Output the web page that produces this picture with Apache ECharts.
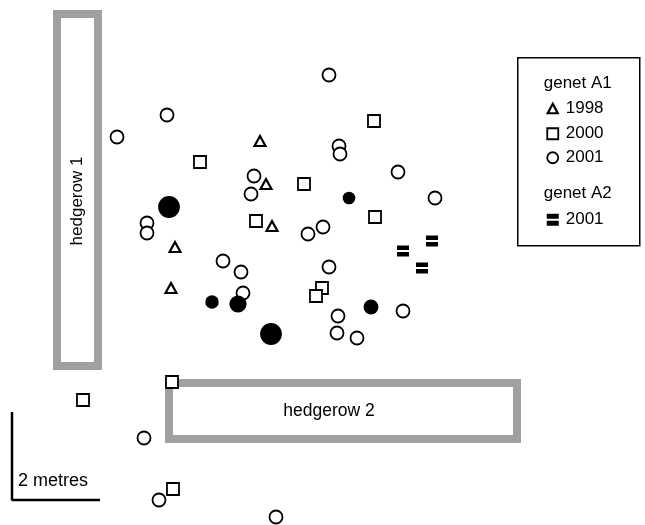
<!DOCTYPE html>
<html><head><meta charset="utf-8">
<script src="https://cdn.jsdelivr.net/npm/echarts@6/dist/echarts.min.js"></script>
<style>html,body{margin:0;padding:0;background:#fff}#c{width:645px;height:525px}</style>
</head><body><div id="c"></div>
<script>
// Map coordinates (plot units, y grows downward)
const genetA1_1998 = [[260,141],[266,184],[272,226],[175,247],[171,288]];
const genetA1_2000 = [[374,121],[200,162],[304,184],[256,221],[375,217],[322,288],[316,296],[172,382],[83,400],[173,489]];
const genetA1_2001 = [[329,75],[167,115],[117,137],[339,146],[340,154],[254,176],[398,172],[251,194],[435,198],[147,223],[147,233],[323,227],[308,234],[223,261],[241,272],[329,267],[243,293],[403,311],[338,316],[337,333],[357,338],[144,438],[159,500],[276,517]];
const genetA2_2001 = [[432,241],[403,251],[422,268]];
const filledPoints = [[169,207,3],[349,198,1],[212,302,1.2],[238,304,2],[271,334,3],[371,307,1.5]];
const hedgerowNames = ['hedgerow 1','hedgerow 2'];
const hedgerowExtents = [[53,102,10,370],[165,521,379,443]]; // x0,x1,y0,y1
const scaleBar = [[12,412],[12,500],[100,500]];
const scaleLabel = '2 metres';

const FONT = '"Liberation Sans", Arial, Helvetica, sans-serif';
const INK = '#000';
const HEDGE = '#a0a0a0';
const A2_PATH = 'path://M0,0H12V5H0Z M0,7H12V12H0Z';
const hedgeLabelShift = [[0,11],[-14,0]];

const chart = echarts.init(document.getElementById('c'), null, {renderer:'canvas'});
const openStyle = {color:'#fff', borderColor:INK, borderWidth:1.8, opacity:1};

chart.setOption({
  animation:false,
  backgroundColor:'#fff',
  grid:{left:0,right:0,top:0,bottom:0},
  xAxis:{type:'value',min:0,max:645,show:false},
  yAxis:{type:'value',min:0,max:525,inverse:true,show:false},
  series:[
    {
      type:'custom', name:'hedgerows', z:1,
      data: hedgerowExtents.map((e,i)=>({value:e, name:hedgerowNames[i]})),
      renderItem:function(params, api){
        const p1 = api.coord([api.value(0), api.value(2)]);
        const p2 = api.coord([api.value(1), api.value(3)]);
        const bw = 8;
        const w = p2[0]-p1[0], h = p2[1]-p1[1];
        const vertical = h > w;
        const sh = hedgeLabelShift[params.dataIndex];
        return {type:'group', children:[
          {type:'rect', shape:{x:p1[0]+bw/2, y:p1[1]+bw/2, width:w-bw, height:h-bw},
           style:{fill:'#fff', stroke:HEDGE, lineWidth:bw}},
          {type:'text', x:(p1[0]+p2[0])/2 + sh[0], y:(p1[1]+p2[1])/2 + sh[1], rotation: vertical? Math.PI/2 : 0,
           style:{text:hedgerowNames[params.dataIndex], fill:'#000', font:(vertical?'17px ':'17.5px ')+FONT, align:'center', verticalAlign:'middle'}}
        ]};
      }
    },
    {type:'line', name:'scale', data:scaleBar, symbol:'none', lineStyle:{color:'#000', width:2.5}, z:2},
    {type:'scatter', name:'1998', data:genetA1_1998, symbol:'triangle', symbolSize:[11,10], itemStyle:{color:'#fff', borderColor:INK, borderWidth:2.1, opacity:1}, z:5},
    {type:'scatter', name:'2000', data:genetA1_2000, symbol:'rect', symbolSize:12, itemStyle:openStyle, z:5},
    {type:'scatter', name:'2001', data:genetA1_2001, symbol:'circle', symbolSize:13, itemStyle:openStyle, z:5},
    {type:'scatter', name:'filled', data:filledPoints, symbol:'circle', symbolSize:function(v){return 8 + 4.6*v[2];}, itemStyle:{color:'#000', opacity:1}, z:6},
    {type:'scatter', name:'A2 2001', data:genetA2_2001, symbol:A2_PATH, symbolSize:[12,11], symbolKeepAspect:false, itemStyle:{color:'#000', opacity:1}, z:5}
  ],
  graphic:[
    {type:'text', left:18, top:472, style:{text:scaleLabel, font:'18px '+FONT, fill:'#000'}},
    {type:'group', left:517, top:57, children:[
      {type:'rect', shape:{x:0,y:0,width:122,height:188}, style:{fill:'#fff', stroke:'#000', lineWidth:1.5}},
      {type:'text', x:60, y:26, style:{text:'genet A1', font:'17px '+FONT, fill:'#000', align:'center', verticalAlign:'middle'}},
      {type:'polygon', shape:{points:[[35,46],[40,55.5],[30,55.5]]}, style:{fill:'#fff', stroke:INK, lineWidth:2.2}},
      {type:'text', x:48, y:51, style:{text:'1998', font:'17px '+FONT, fill:'#000', verticalAlign:'middle'}},
      {type:'rect', shape:{x:29.5,y:70.5,width:11,height:11}, style:{fill:'#fff', stroke:INK, lineWidth:1.8}},
      {type:'text', x:48, y:76, style:{text:'2000', font:'17px '+FONT, fill:'#000', verticalAlign:'middle'}},
      {type:'circle', shape:{cx:35,cy:100,r:5.5}, style:{fill:'#fff', stroke:INK, lineWidth:1.8}},
      {type:'text', x:48, y:100, style:{text:'2001', font:'17px '+FONT, fill:'#000', verticalAlign:'middle'}},
      {type:'text', x:60, y:136, style:{text:'genet A2', font:'17px '+FONT, fill:'#000', align:'center', verticalAlign:'middle'}},
      {type:'rect', shape:{x:29,y:156,width:12,height:5}, style:{fill:'#000'}},
      {type:'rect', shape:{x:29,y:163,width:12,height:5}, style:{fill:'#000'}},
      {type:'text', x:48, y:162, style:{text:'2001', font:'17px '+FONT, fill:'#000', verticalAlign:'middle'}}
    ]}
  ]
});
</script></body></html>
